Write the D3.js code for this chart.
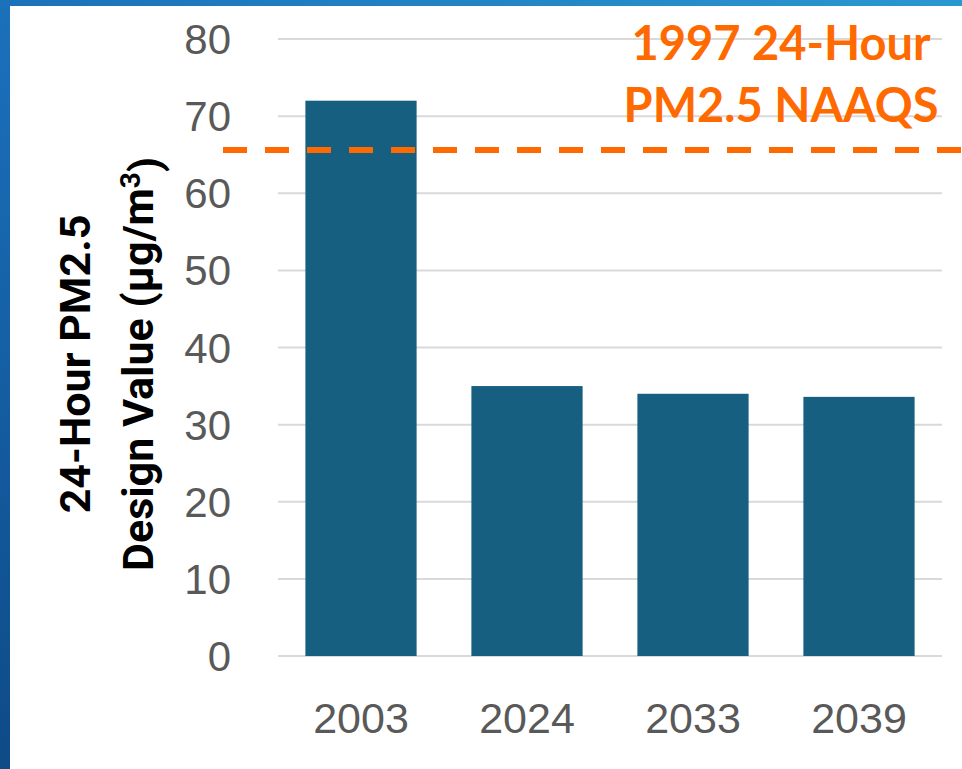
<!DOCTYPE html>
<html>
<head>
<meta charset="utf-8">
<script src="https://cdn.jsdelivr.net/npm/d3@7"></script>
<style>
  html, body { margin: 0; padding: 0; background: #fff; }
  svg { display: block; }
</style>
</head>
<body>
<div id="chart"></div>
<script>
// data
var years = ["2003", "2024", "2033", "2039"];
var designValues = [72, 35, 34, 33.6];
var yTicks = [0, 10, 20, 30, 40, 50, 60, 70, 80];
var standardValue = 65.6;   // 1997 24-hour NAAQS line
var standardLabel = ["1997 24-Hour", "PM2.5 NAAQS"];

var width = 962, height = 769;
var margin = {left: 278, right: 20, top: 39, bottom: 113};

var svg = d3.select("#chart").append("svg")
    .attr("width", width)
    .attr("height", height);

// blue frame behind the white slide
var defs = svg.append("defs");
var grad = defs.append("linearGradient")
    .attr("id", "frame")
    .attr("x1", "0%").attr("y1", "100%")
    .attr("x2", "100%").attr("y2", "0%");
grad.append("stop").attr("offset", "0%").attr("stop-color", "#0e4a86");
grad.append("stop").attr("offset", "45%").attr("stop-color", "#1a6db8");
grad.append("stop").attr("offset", "100%").attr("stop-color", "#2a98d0");

svg.append("rect")
    .attr("width", width).attr("height", height)
    .attr("fill", "url(#frame)");
svg.append("rect")
    .attr("x", 10).attr("y", 6)
    .attr("width", width - 10).attr("height", height - 6)
    .attr("fill", "#fff");

var x = d3.scaleBand()
    .domain(years)
    .range([margin.left, width - margin.right])
    .paddingInner(0.33)
    .paddingOuter(0.165);

var y = d3.scaleLinear()
    .domain([0, 80])
    .range([height - margin.bottom, margin.top]);

// gridlines
svg.append("g").selectAll("line")
    .data(yTicks)
    .enter().append("line")
    .attr("x1", margin.left)
    .attr("x2", width - margin.right)
    .attr("y1", function (d) { return y(d); })
    .attr("y2", function (d) { return y(d); })
    .attr("stroke", "#d9d9d9")
    .attr("stroke-width", 2);

// y tick labels
svg.append("g").selectAll("text")
    .data(yTicks)
    .enter().append("text")
    .attr("x", 231)
    .attr("y", function (d) { return y(d); })
    .attr("dy", ".36em")
    .style("text-anchor", "end")
    .style("font-family", "'Liberation Sans', Arial, sans-serif")
    .style("font-size", "42px")
    .style("fill", "#595959")
    .text(function (d) { return d; });

// bars
svg.append("g").selectAll("rect")
    .data(designValues)
    .enter().append("rect")
    .attr("x", function (d, i) { return x(years[i]); })
    .attr("y", function (d) { return y(d); })
    .attr("width", x.bandwidth())
    .attr("height", function (d) { return y(0) - y(d); })
    .attr("fill", "#175f81");

// x labels
svg.append("g").selectAll("text")
    .data(years)
    .enter().append("text")
    .attr("x", function (d) { return x(d) + x.bandwidth() / 2; })
    .attr("y", 733)
    .style("text-anchor", "middle")
    .style("font-family", "'Liberation Sans', Arial, sans-serif")
    .style("font-size", "43px")
    .style("fill", "#595959")
    .text(function (d) { return d; });

// standard line
svg.append("line")
    .attr("x1", 223)
    .attr("x2", width)
    .attr("y1", y(standardValue))
    .attr("y2", y(standardValue))
    .attr("stroke", "#ff6a00")
    .attr("stroke-width", 6)
    .attr("stroke-dasharray", "24,18");

svg.append("g").selectAll("text")
    .data(standardLabel)
    .enter().append("text")
    .attr("x", 781)
    .attr("y", function (d, i) { return 60 + i * 62; })
    .style("text-anchor", "middle")
    .style("font-family", "Lato, 'Open Sans', sans-serif")
    .style("font-weight", "bold")
    .style("font-size", "47px")
    .style("fill", "#ff6a00")
    .text(function (d) { return d; });

// y axis title, two rotated lines
var title = svg.append("g")
    .attr("transform", "translate(0,364) rotate(-90)")
    .style("font-family", "Roboto, sans-serif")
    .style("font-weight", "bold")
    .style("font-size", "43px")
    .style("fill", "#000")
    .style("text-anchor", "middle");

title.append("text")
    .attr("x", 0)
    .attr("y", 90)
    .text("24-Hour PM2.5");

var line2 = title.append("text")
    .attr("x", 0)
    .attr("y", 153);
line2.append("tspan").text("Design Value (µg/m");
line2.append("tspan")
    .attr("dy", "-0.45em")
    .style("font-size", "28px")
    .text("3");
line2.append("tspan")
    .attr("dy", "0.45em")
    .text(")");
</script>
</body>
</html>
